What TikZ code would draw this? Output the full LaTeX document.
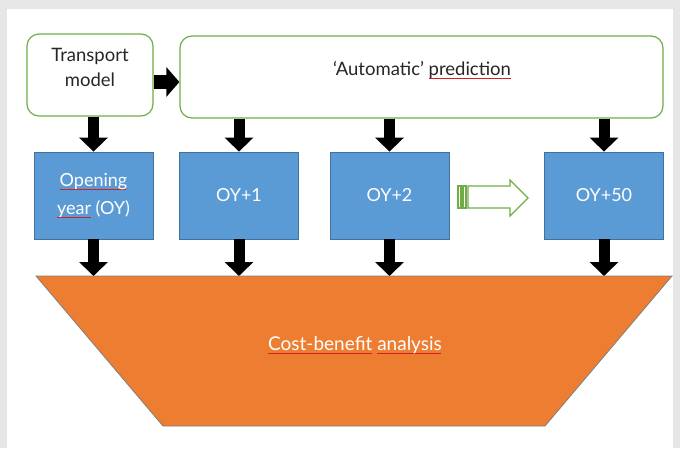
\documentclass[tikz,border=0pt]{standalone}
\usepackage{fontspec}
\setmainfont{Lato}
\usetikzlibrary{arrows.meta}
\definecolor{pagegray}{HTML}{E6E6E6}
\definecolor{boxgreen}{HTML}{70AD47}
\definecolor{boxblue}{HTML}{5B9BD5}
\definecolor{blueedge}{HTML}{41719C}
\definecolor{funnel}{HTML}{ED7D31}
\definecolor{squigred}{HTML}{D62020}
\definecolor{darktext}{HTML}{262626}
% red spell-check style wavy underline
\newcommand\redsquig[1]{\setbox0=\hbox{#1}\rlap{\textcolor{squigred}{\raisebox{-4pt}{\leaders\hbox to 2pt{\rule[0pt]{1pt}{0.7pt}\rule[0.7pt]{1pt}{0.7pt}}\hskip\wd0}}}\box0\relax}
\tikzset{
  topbox/.style={draw=boxgreen, line width=1.2pt, rounded corners=12pt, fill=white},
  toptext/.style={text=darktext, align=center, font=\fontsize{18.5}{25}\selectfont},
  yearbox/.style={draw=blueedge, line width=0.8pt, fill=boxblue, text=white,
    align=center, minimum width=119pt, minimum height=87pt,
    font=\fontsize{18}{28}\selectfont},
  blockarrow/.style={line width=11pt, line cap=butt,
    -{Triangle[width=28pt,length=14pt]}},
  sidearrow/.style={line width=14pt, line cap=butt,
    -{Triangle[width=29pt,length=13pt]}},
}
\begin{document}
\begin{tikzpicture}[x=1pt,y=-1pt]
  % page background
  \fill[pagegray] (0,0) rectangle (680,448);
  \fill[white] (7,9) rectangle (673,448);
  \useasboundingbox (0,0) rectangle (680,448);

  % top row
  \node[topbox, minimum width=126pt, minimum height=82pt] (tm) at (90,75) {};
  \node[toptext] (tmtext) at (90,67) {Transport\\model};
  \node[topbox, minimum width=483pt, minimum height=82pt] (ap) at (421.5,77) {};
  \node[toptext] (aptext) at (422,70) {‘Automatic’ \redsquig{prediction}};

  % yearly boxes
  \node[yearbox] (b1) at (93.5,195.5) {\redsquig{Opening}\\\redsquig{year} (OY)};
  \node[yearbox] (b2) at (239,195.5) {OY+1};
  \node[yearbox] (b3) at (389.5,195.5) {OY+2};
  \node[yearbox] (b4) at (604,195.5) {OY+50};

  % funnel
  \coordinate (ftop) at (355,276);
  \fill[funnel] (36,276) -- (672,276) -- (545,426) -- (163,426) -- cycle;
  \draw[gray, line width=0.8pt] (36,276) -- (672,276) -- (545,426) -- (163,426) -- cycle;
  \node[text=white, font=\fontsize{19}{24}\selectfont] (cba) at (355,345)
    {\redsquig{Cost-benefit} \redsquig{analysis}};

  % striped hollow arrow between OY+2 and OY+50
  \begin{scope}[draw=boxgreen, line width=1.1pt, fill=white]
    \filldraw (458,186) rectangle (461,208);
    \filldraw (463,186) rectangle (466,208);
    \filldraw (468,186) -- (510,186) -- (510,180) -- (528,198) -- (510,216)
      -- (510,208) -- (468,208) -- cycle;
  \end{scope}

  % connectors
  \draw[sidearrow] (tm.east |- 0,82) -- (ap.west |- 0,82);
  \draw[blockarrow] (tm.south -| b1) -- (b1.north);
  \draw[blockarrow] (ap.south -| b2) -- (b2.north);
  \draw[blockarrow] (ap.south -| b3) -- (b3.north);
  \draw[blockarrow] (ap.south -| b4) -- (b4.north);
  \draw[blockarrow] (b1.south) -- (b1.south |- ftop);
  \draw[blockarrow] (b2.south) -- (b2.south |- ftop);
  \draw[blockarrow] (b3.south) -- (b3.south |- ftop);
  \draw[blockarrow] (b4.south) -- (b4.south |- ftop);
\end{tikzpicture}
\end{document}
